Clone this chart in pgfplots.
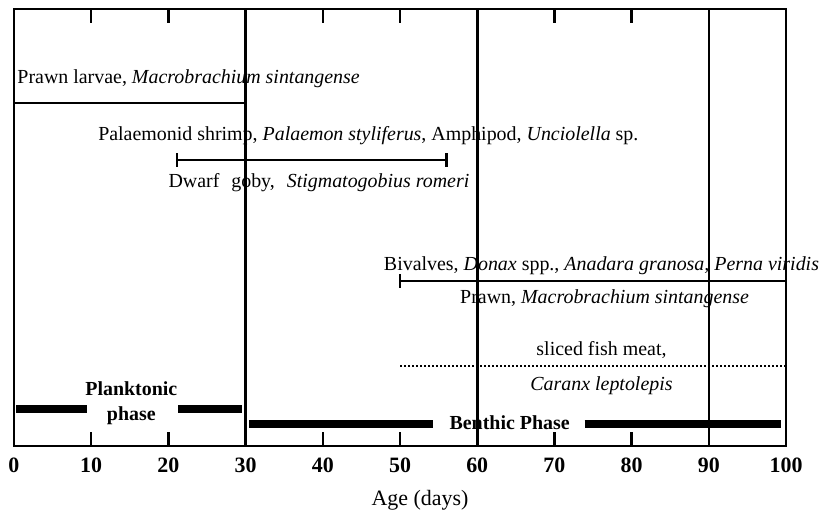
\documentclass[border=0pt]{standalone}
\usepackage{fontspec}
\setmainfont{Liberation Serif}
\usepackage{pgfplots}
\pgfplotsset{compat=1.18}
\begin{document}
\begin{tikzpicture}
\begin{axis}[
  scale only axis,
  width=386bp, height=218.5bp,
  xmin=0, xmax=100, ymin=0, ymax=437,
  axis line style={line width=1.4bp},
  xtick={0,10,...,100},
  ytick=\empty,
  tick align=inside,
  major tick length=7bp,
  tick style={line width=1.2bp, black},
  xtick pos=both,
  /pgf/number format/assume math mode=true,
  xticklabel style={font=\fontsize{11}{13}\selectfont\bfseries, yshift=-2.5bp},
  xlabel={Age (days)},
  xlabel style={font=\fontsize{11}{13}\selectfont, yshift=-2bp, xshift=10bp},
  clip=false,
]
% vertical lines
\addplot[black, line width=1.3bp] coordinates {(30,0) (30,437)};
\addplot[black, line width=1.3bp] coordinates {(60,0) (60,437)};
\addplot[black, line width=1.3bp] coordinates {(90,0) (90,437)};
% Prawn larvae
\addplot[black, line width=1.2bp] coordinates {(0,343) (30,343)};
\addplot[black, only marks, mark=|, mark size=3.5bp, mark options={line width=1.2bp}] coordinates {(30,343)};
% Palaemonid
\addplot[black, line width=1.2bp] coordinates {(21.1,286) (56,286)};
\addplot[black, only marks, mark=|, mark size=3.5bp, mark options={line width=1.2bp}] coordinates {(21.1,286) (56,286)};
% Bivalves
\addplot[black, line width=1.2bp] coordinates {(50,165) (100,165)};
\addplot[black, only marks, mark=|, mark size=3.5bp, mark options={line width=1.2bp}] coordinates {(50,165)};
% dotted
\addplot[black, line width=1bp, dash pattern=on 0.9bp off 1.1bp] coordinates {(50,80) (100,80)};
% planktonic bars
\addplot[black, line width=3.6bp] coordinates {(0.3,37) (9.4,37)};
\addplot[black, line width=3.6bp] coordinates {(21.3,37) (29.5,37)};
% benthic bars
\addplot[black, line width=3.6bp] coordinates {(30.5,22) (54.3,22)};
\addplot[black, line width=3.6bp] coordinates {(73.9,22) (99.3,22)};
% texts
\node[anchor=base west, inner sep=0pt] at (axis cs:0.4,363) {Prawn larvae, \textit{Macrobrachium sintangense}};
\node[anchor=base, inner sep=0pt] at (axis cs:45.9,306) {Palaemonid shrimp, \textit{Palaemon styliferus}, Amphipod, \textit{Unciolella} sp.};
\node[anchor=base, inner sep=0pt] at (axis cs:39.5,259) {Dwarf\hspace{0.6em}goby,\hspace{0.6em}\textit{Stigmatogobius romeri}};
\node[anchor=base, inner sep=0pt] at (axis cs:76.1,176) {Bivalves, \textit{Donax} spp., \textit{Anadara granosa, Perna viridis}};
\node[anchor=base, inner sep=0pt] at (axis cs:76.5,143) {Prawn, \textit{Macrobrachium sintangense}};
\node[anchor=base, inner sep=0pt] at (axis cs:76.1,91) {sliced fish meat,};
\node[anchor=base, inner sep=0pt] at (axis cs:76.1,56) {\textit{Caranx leptolepis}};
\node[anchor=base, inner sep=0pt, font=\bfseries] at (axis cs:15.2,51) {Planktonic};
\node[anchor=base, inner sep=0pt, font=\bfseries] at (axis cs:15.2,26) {phase};
\node[anchor=base, inner sep=0pt, font=\bfseries] at (axis cs:64.2,17) {Benthic Phase};
\path (rel axis cs:-0.0181,-0.1442) rectangle (rel axis cs:1.0466,1.0206);
\end{axis}
\end{tikzpicture}
\end{document}
